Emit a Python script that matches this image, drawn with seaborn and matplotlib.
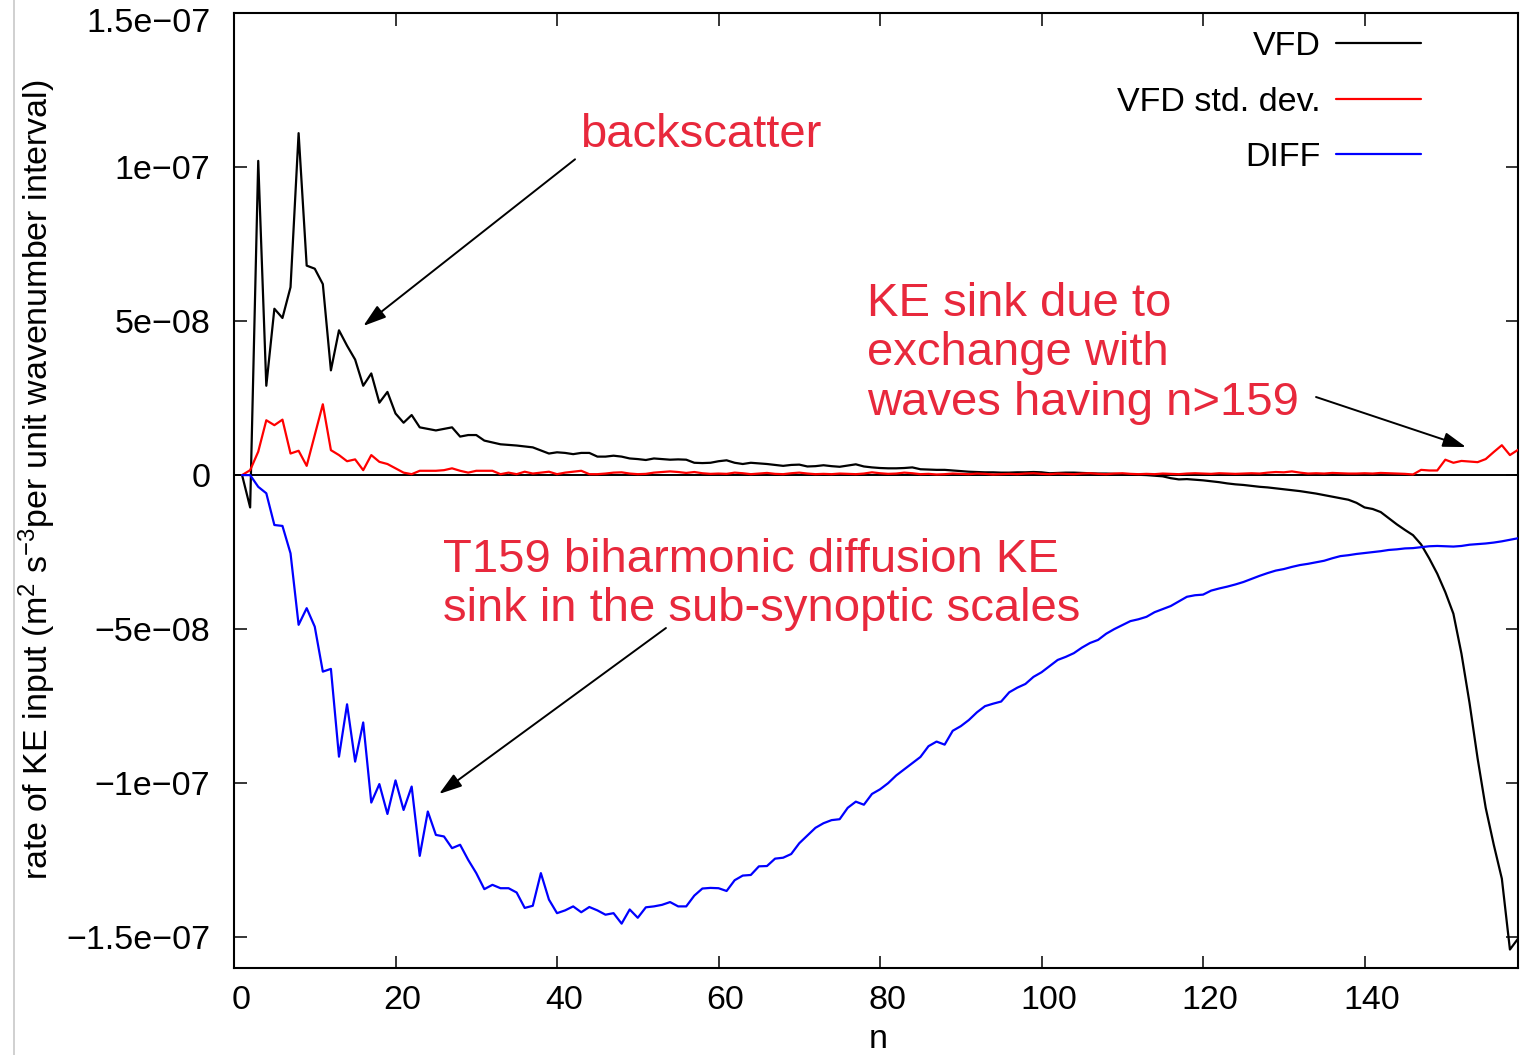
import numpy as np
import pandas as pd
import matplotlib
matplotlib.use('Agg')
import matplotlib.pyplot as plt
import seaborn as sns
from matplotlib.lines import Line2D
from matplotlib.patches import ArrowStyle
from matplotlib.transforms import ScaledTranslation
from matplotlib.ticker import FixedLocator, FixedFormatter

# ---------------- data (values in units of 1e-8 m^2 s^-3) ----------------
VFD_E8 = [
    0, -1.05, 10.2, 2.9, 5.4, 5.1, 6.1, 11.1, 6.8, 6.7,
    6.2, 3.4, 4.7, 4.2, 3.75, 2.9, 3.3, 2.35, 2.7, 2.0,
    1.7, 1.95, 1.55, 1.5, 1.45, 1.5, 1.55, 1.25, 1.3, 1.3,
    1.12, 1.06, 1.0, 0.98, 0.96, 0.93, 0.9, 0.8, 0.7, 0.74,
    0.72, 0.68, 0.72, 0.72, 0.6, 0.6, 0.63, 0.6, 0.54, 0.52,
    0.49, 0.54, 0.52, 0.5, 0.51, 0.5, 0.4, 0.39, 0.4, 0.45,
    0.48, 0.4, 0.36, 0.4, 0.38, 0.36, 0.33, 0.3, 0.33, 0.34,
    0.28, 0.29, 0.32, 0.29, 0.27, 0.31, 0.35, 0.28, 0.25, 0.23,
    0.22, 0.22, 0.23, 0.25, 0.19, 0.18, 0.17, 0.17, 0.15, 0.13,
    0.11, 0.1, 0.09, 0.09, 0.08, 0.08, 0.09, 0.09, 0.1, 0.09,
    0.06, 0.07, 0.08, 0.08, 0.07, 0.06, 0.05, 0.05, 0.04, 0.03,
    0.02, 0.01, 0.0, -0.02, -0.04, -0.1, -0.14, -0.13, -0.15, -0.17,
    -0.2, -0.23, -0.27, -0.3, -0.32, -0.35, -0.38, -0.4, -0.43, -0.46,
    -0.49, -0.52, -0.56, -0.6, -0.65, -0.7, -0.75, -0.8, -0.9, -1.05,
    -1.1, -1.2, -1.4, -1.6, -1.78, -1.95, -2.25, -2.7, -3.2, -3.8,
    -4.5, -5.8, -7.4, -9.2, -10.8, -12.0, -13.1, -15.4, -15.05,
]

VFD_STD_E8 = [
    0, 0.16, 0.76, 1.78, 1.62, 1.8, 0.7, 0.79, 0.3, 1.3,
    2.3, 0.81, 0.65, 0.45, 0.51, 0.16, 0.65, 0.43, 0.36, 0.22,
    0.08, 0.03, 0.14, 0.14, 0.14, 0.16, 0.22, 0.14, 0.08, 0.14,
    0.14, 0.14, 0.03, 0.08, 0.03, 0.11, 0.05, 0.08, 0.11, 0.03,
    0.08, 0.11, 0.14, 0.03, 0.03, 0.05, 0.08, 0.09, 0.05, 0.03,
    0.04, 0.08, 0.1, 0.12, 0.1, 0.07, 0.1, 0.06, 0.04, 0.05,
    0.04, 0.08, 0.06, 0.03, 0.05, 0.07, 0.04, 0.03, 0.06, 0.08,
    0.05, 0.03, 0.04, 0.03, 0.05, 0.04, 0.03, 0.05, 0.09, 0.06,
    0.04, 0.05, 0.08, 0.06, 0.03, 0.04, 0.02, 0.03, 0.05, 0.04,
    0.03, 0.05, 0.04, 0.02, 0.03, 0.04, 0.03, 0.05, 0.06, 0.04,
    0.03, 0.05, 0.04, 0.03, 0.05, 0.06, 0.04, 0.03, 0.05, 0.06,
    0.04, 0.03, 0.04, 0.03, 0.05, 0.04, 0.03, 0.05, 0.06, 0.05,
    0.04, 0.06, 0.05, 0.04, 0.05, 0.06, 0.05, 0.08, 0.1, 0.09,
    0.12, 0.08, 0.05, 0.06, 0.05, 0.07, 0.06, 0.05, 0.05, 0.06,
    0.05, 0.07, 0.06, 0.05, 0.04, 0.02, 0.17, 0.15, 0.15, 0.5,
    0.4, 0.46, 0.44, 0.42, 0.52, 0.75, 0.97, 0.65, 0.82,
]

DIFF_E8 = [
    0, 0, -0.38, -0.59, -1.62, -1.65, -2.54, -4.86, -4.32, -4.92,
    -6.38, -6.29, -9.14, -7.44, -9.3, -8.03, -10.63, -10.03, -11.0, -9.91,
    -10.87, -10.11, -12.36, -10.92, -11.68, -11.73, -12.11, -12.0, -12.49, -12.92,
    -13.44, -13.3, -13.41, -13.41, -13.55, -14.05, -13.98, -12.92, -13.78, -14.22,
    -14.13, -14.0, -14.19, -14.02, -14.13, -14.27, -14.22, -14.56, -14.1, -14.37,
    -14.03, -14.0, -13.95, -13.86, -14.0, -14.0, -13.65, -13.42, -13.4, -13.41,
    -13.5, -13.15, -13.0, -12.98, -12.7, -12.69, -12.45, -12.42, -12.3, -11.95,
    -11.7, -11.45, -11.3, -11.2, -11.17, -10.8, -10.6, -10.7, -10.35, -10.2,
    -10.0, -9.75, -9.55, -9.35, -9.15, -8.8, -8.65, -8.75, -8.3, -8.15,
    -7.95, -7.7, -7.5, -7.42, -7.35, -7.05, -6.9, -6.78, -6.55, -6.4,
    -6.2, -6.0, -5.9, -5.78, -5.6, -5.45, -5.35, -5.15, -5.0, -4.87,
    -4.74, -4.68, -4.6, -4.45, -4.35, -4.25, -4.1, -3.95, -3.9, -3.88,
    -3.75, -3.68, -3.62, -3.55, -3.47, -3.37, -3.27, -3.18, -3.1, -3.05,
    -2.98, -2.92, -2.88, -2.83, -2.78, -2.7, -2.63, -2.6, -2.56, -2.53,
    -2.5, -2.47, -2.43, -2.41, -2.38, -2.37, -2.34, -2.31, -2.3, -2.31,
    -2.32, -2.3, -2.26, -2.24, -2.22, -2.19, -2.15, -2.1, -2.05,
]

N_VALUES = list(range(1, 160))
SERIES_NAMES = ["VFD", "VFD std. dev.", "DIFF"]
X_TICKS = [0, 20, 40, 60, 80, 100, 120, 140]
Y_TICKS = [1.5e-7, 1e-7, 5e-8, 0, -5e-8, -1e-7, -1.5e-7]
Y_TICK_LABELS = ["1.5e\u221207", "1e\u221207", "5e\u221208", "0",
                 "\u22125e\u221208", "\u22121e\u221207", "\u22121.5e\u221207"]

# ---------------- style ----------------
sns.set_theme(style="white")
plt.rcParams['font.family'] = ['Liberation Sans', 'DejaVu Sans']
plt.rcParams['mathtext.fontset'] = 'custom'
plt.rcParams['mathtext.rm'] = 'Liberation Sans'
plt.rcParams['mathtext.it'] = 'Liberation Sans:italic'
plt.rcParams['mathtext.default'] = 'regular'

ANNOT_RED = '#e8283c'
FS = 24.5

df = pd.DataFrame({
    "n": N_VALUES * 3,
    "value": np.concatenate([VFD_E8, VFD_STD_E8, DIFF_E8]) * 1e-8,
    "series": np.repeat(SERIES_NAMES, len(N_VALUES)),
})

fig = plt.figure(figsize=(15.24, 10.55), dpi=100)
ax = fig.add_axes([234 / 1524, 1 - 968 / 1055, 1284 / 1524, 955 / 1055])

ax.axhline(0, color='black', lw=1.4, zorder=1)

sns.lineplot(data=df, x="n", y="value", hue="series", hue_order=SERIES_NAMES,
             palette={"VFD": "black", "VFD std. dev.": "#ff0000", "DIFF": "#0000ff"},
             lw=1.6, errorbar=None, ax=ax, zorder=3)

ax.set_xlim(0, 159)
ax.set_ylim(-1.6e-7, 1.5e-7)

ax.xaxis.set_major_locator(FixedLocator(X_TICKS))
ax.yaxis.set_major_locator(FixedLocator(Y_TICKS))
ax.yaxis.set_major_formatter(FixedFormatter(Y_TICK_LABELS))
ax.tick_params(axis='both', which='major', direction='in', length=9, width=1.1,
               color='black', labelsize=FS, labelcolor='black',
               top=True, right=True, bottom=True, left=True)
ax.tick_params(axis='y', pad=17)
ax.tick_params(axis='x', pad=12)
for lab in ax.get_xticklabels():
    lab.set_transform(lab.get_transform() + ScaledTranslation(7 / 100, 0, fig.dpi_scale_trans))
# the top label sits slightly below its tick in the original
ax.get_yticklabels()[0].set_transform(
    ax.get_yticklabels()[0].get_transform() + ScaledTranslation(0, -7 / 100, fig.dpi_scale_trans))

for sp in ax.spines.values():
    sp.set_color('black')
    sp.set_linewidth(1.5)

ax.set_xlabel("n", fontsize=FS, color='black')
ax.xaxis.set_label_coords(0.5016, -0.0585)
ax.set_ylabel("rate of KE input (m$^{2}$ s$^{-3}$per unit wavenumber interval)",
              fontsize=FS, color='black')
ax.yaxis.set_label_coords(-0.137, 0.511)

# legend
handles, labels = ax.get_legend_handles_labels()
leg = ax.legend(handles, labels, loc='upper right', bbox_to_anchor=(0.9245, 0.981),
                frameon=False, markerfirst=False, fontsize=FS, handlelength=2.5,
                handletextpad=0.45, labelspacing=0.72, borderpad=0, borderaxespad=0)
for line in leg.get_lines():
    line.set_linewidth(1.6)
for t in leg.get_texts():
    t.set_color('black')

# annotations
ax.text(0.2695, 0.8953, "backscatter", transform=ax.transAxes, color=ANNOT_RED,
        fontsize=34, ha='left', va='top')
ax.text(0.493, 0.7183, "KE sink due to\nexchange with\nwaves having n>159",
        transform=ax.transAxes, color=ANNOT_RED, fontsize=34, ha='left', va='top',
        linespacing=1.16)
ax.text(0.1628, 0.4503, "T159 biharmonic diffusion KE\nsink in the sub-synoptic scales",
        transform=ax.transAxes, color=ANNOT_RED, fontsize=34, ha='left', va='top',
        linespacing=1.16)

astyle = ArrowStyle('-|>', head_length=1.4, head_width=0.45)
for tail, head in [((0.2656, 0.8468), (0.1007, 0.6723)),
                   ((0.8427, 0.5979), (0.9595, 0.5455)),
                   ((0.3364, 0.3560), (0.1597, 0.1822))]:
    ax.annotate("", xy=head, xytext=tail, xycoords='axes fraction',
                textcoords='axes fraction',
                arrowprops=dict(arrowstyle=astyle, color='black', lw=1.4,
                                shrinkA=0, shrinkB=0, mutation_scale=10))

# thin grey slide border on the left
fig.add_artist(Line2D([14 / 1524, 14 / 1524], [0, 1], color='#c8c8c8', lw=1.2,
                      transform=fig.transFigure))

fig.savefig("out.png", dpi=100)
